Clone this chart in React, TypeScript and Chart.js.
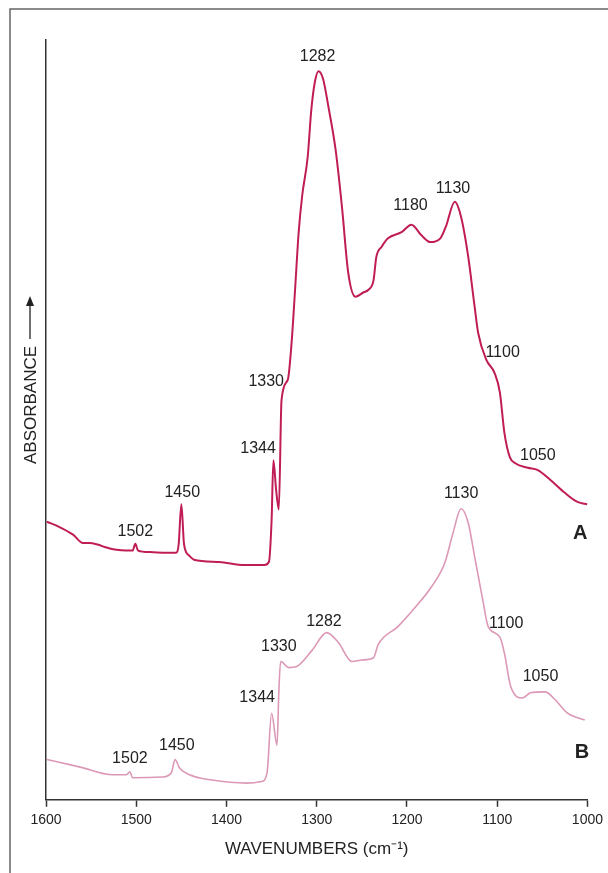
import React, { useEffect, useRef } from "react";
import { Chart, registerables } from "chart.js";

Chart.register(...registerables);

// Spectrum A (upper trace): wavenumber (cm-1) and absorbance (arbitrary units)
const wavenumbersA = [
  1599, 1585, 1570, 1559, 1552, 1543, 1533, 1522, 1511, 1504, 1501, 1498, 1485, 1466, 1456,
  1453, 1450, 1447, 1441, 1436, 1408, 1380, 1358, 1353, 1350, 1348, 1345, 1342, 1339,
  1332, 1328, 1324, 1320, 1316, 1310, 1306, 1302, 1298, 1293, 1287, 1279, 1272, 1265, 1257, 1248, 1243,
  1237, 1234, 1228, 1221, 1206, 1195, 1184, 1174, 1163, 1157, 1147, 1140, 1132, 1125, 1121,
  1112, 1103, 1097, 1092, 1086, 1080, 1066, 1055, 1041, 1025, 1011, 1000,
];
const absorbanceA = [
  36.6, 35.9, 34.9, 33.8, 33.8, 33.6, 33.2, 32.9, 32.8, 32.8, 33.7, 32.8, 32.6, 32.5, 32.5,
  33.6, 38.9, 33.6, 32.1, 31.6, 31.3, 30.9, 30.9, 31.3, 36.8, 44.7, 40.8, 38.2, 52.6,
  55.3, 59.9, 67.1, 74.7, 79.6, 84.6, 90.8, 94.5, 95.9, 94.9, 91.2, 85.5, 78.0, 69.3, 66.2, 66.8, 67.1,
  68.4, 71.4, 72.8, 73.9, 74.7, 75.7, 74.3, 73.4, 73.9, 75.4, 78.7, 76.7, 71.4, 64.9, 61.4,
  57.9, 56.2, 53.6, 48.3, 45.1, 44.3, 43.7, 43.4, 42.1, 40.4, 39.2, 38.9,
];

// Spectrum B (lower trace)
const wavenumbersB = [
  1599, 1562, 1526, 1511, 1507, 1504, 1471, 1461, 1457, 1452, 1441, 1416, 1378, 1361, 1355,
  1350, 1344, 1342, 1340, 1331, 1323, 1305, 1289, 1276, 1261, 1250, 1237, 1232, 1210, 1191,
  1173, 1158, 1149, 1140, 1132, 1125, 1116, 1110, 1097, 1092, 1085, 1072, 1063, 1047, 1036,
  1022, 1003,
];
const absorbanceB = [
  5.3, 4.3, 3.3, 3.3, 3.7, 2.9, 3.0, 3.6, 5.3, 4.2, 3.3, 2.6, 2.2, 2.4, 3.6,
  11.4, 7.2, 14.1, 18.2, 17.4, 17.5, 19.7, 22.0, 20.7, 18.2, 18.4, 18.7, 20.4, 22.8, 25.3,
  28.0, 31.2, 35.1, 38.3, 36.4, 32.0, 26.3, 22.8, 21.4, 19.3, 14.9, 13.4, 14.1, 14.2, 13.2,
  11.4, 10.5,
];

// Peak annotations: text, wavenumber, absorbance where the label sits
const peakTextsA = ["1282", "1180", "1130", "1100", "1050", "1330", "1344", "1450", "1502"];
const peakWnA = [1299, 1196, 1149, 1094, 1055, 1356, 1365, 1449, 1501];
const peakAbsA = [97.8, 78.2, 80.5, 58.8, 45.3, 55.1, 46.2, 40.4, 35.3];

const peakTextsB = ["1130", "1282", "1100", "1050", "1330", "1344", "1502", "1450"];
const peakWnB = [1140, 1292, 1090, 1052, 1342, 1366, 1507, 1455];
const peakAbsB = [40.3, 23.4, 23.2, 16.2, 20.1, 13.4, 5.4, 7.2];

const traceLabels = ["A", "B"];
const traceLabelWn = [1008, 1006];
const traceLabelAbs = [35.1, 6.2];

const xTicks = [1600, 1500, 1400, 1300, 1200, 1100, 1000];

const COLOR_A = "#c01d57";
const COLOR_B = "#dc98b6";
const INK = "#222222";

const frameAndLabels = {
  id: "frameAndLabels",
  beforeDraw(chart: any) {
    const ctx = chart.ctx;
    ctx.save();
    ctx.fillStyle = "#ffffff";
    ctx.fillRect(0, 0, chart.width, chart.height);
    ctx.strokeStyle = "#666666";
    ctx.lineWidth = 1.5;
    ctx.beginPath();
    ctx.moveTo(10, chart.height);
    ctx.lineTo(10, 9);
    ctx.lineTo(chart.width, 9);
    ctx.stroke();
    ctx.restore();
  },
  afterDraw(chart: any) {
    const ctx = chart.ctx;
    const xs = chart.scales.x;
    const ys = chart.scales.y;
    ctx.save();
    ctx.fillStyle = INK;
    ctx.textAlign = "center";
    ctx.textBaseline = "middle";
    ctx.font = "16px 'Liberation Sans Narrow', 'Liberation Sans', Arial, sans-serif";
    peakTextsA.forEach((t, i) => {
      ctx.fillText(t, xs.getPixelForValue(peakWnA[i]), ys.getPixelForValue(peakAbsA[i]));
    });
    peakTextsB.forEach((t, i) => {
      ctx.fillText(t, xs.getPixelForValue(peakWnB[i]), ys.getPixelForValue(peakAbsB[i]));
    });
    ctx.font = "bold 20px 'Liberation Sans', Arial, sans-serif";
    traceLabels.forEach((t, i) => {
      ctx.fillText(t, xs.getPixelForValue(traceLabelWn[i]), ys.getPixelForValue(traceLabelAbs[i]));
    });

    // Y axis title with upward arrow
    const cx = 30;
    const cy = 380;
    ctx.translate(cx, cy);
    ctx.rotate(-Math.PI / 2);
    ctx.font = "17px 'Liberation Sans', Arial, sans-serif";
    ctx.textAlign = "left";
    const label = "ABSORBANCE";
    const w = ctx.measureText(label).width;
    const total = w + 50;
    const start = -total / 2;
    ctx.fillText(label, start, 1);
    ctx.strokeStyle = INK;
    ctx.lineWidth = 1.3;
    ctx.beginPath();
    ctx.moveTo(start + w + 7, 0);
    ctx.lineTo(start + total - 6, 0);
    ctx.stroke();
    ctx.beginPath();
    ctx.moveTo(start + total, 0);
    ctx.lineTo(start + total - 10, -4);
    ctx.lineTo(start + total - 10, 4);
    ctx.closePath();
    ctx.fill();
    ctx.restore();
  },
};

export default function App() {
  const ref = useRef<HTMLCanvasElement | null>(null);
  useEffect(() => {
    if (!ref.current) return;
    const chart = new Chart(ref.current, {
      type: "line",
      data: {
        datasets: [
          {
            label: "A",
            data: wavenumbersA.map((x, i) => ({ x, y: absorbanceA[i] })),
            borderColor: COLOR_A,
            borderWidth: 2,
            pointRadius: 0,
            cubicInterpolationMode: "monotone",
            fill: false,
          },
          {
            label: "B",
            data: wavenumbersB.map((x, i) => ({ x, y: absorbanceB[i] })),
            borderColor: COLOR_B,
            borderWidth: 1.6,
            pointRadius: 0,
            cubicInterpolationMode: "monotone",
            fill: false,
          },
        ],
      },
      options: {
        responsive: false,
        animation: false,
        layout: { padding: { left: 46, right: 18, top: 40, bottom: 13 } },
        plugins: {
          legend: { display: false },
          tooltip: { enabled: false },
          title: { display: false },
        },
        scales: {
          x: {
            type: "linear",
            reverse: true,
            min: 1000,
            max: 1600,
            afterBuildTicks: (s: any) => {
              s.ticks = xTicks.map((v) => ({ value: v }));
            },
            ticks: {
              color: INK,
              padding: 5,
              maxRotation: 0,
              autoSkip: false,
              font: { family: "'Liberation Sans', Arial, sans-serif", size: 14 },
              callback: (v: any) => String(v),
            },
            grid: {
              display: true,
              drawOnChartArea: false,
              drawTicks: true,
              tickLength: 7,
              tickColor: "#333333",
              tickWidth: 1.5,
            },
            border: { display: true, color: "#333333", width: 1.5 },
            title: {
              display: true,
              text: "WAVENUMBERS (cm\u207B\u00B9)",
              color: INK,
              font: { family: "'Liberation Sans', Arial, sans-serif", size: 17 },
              padding: { top: 6, bottom: 0 },
            },
          },
          y: {
            type: "linear",
            min: 0,
            max: 100,
            ticks: { display: false },
            grid: { display: false, drawTicks: false },
            border: { display: true, color: "#333333", width: 1.5 },
            title: { display: false },
          },
        },
      },
      plugins: [frameAndLabels],
    } as any);
    return () => chart.destroy();
  }, []);
  return (
    <div style={{ position: "absolute", left: 0, top: 0, width: 608, height: 873, background: "#fff" }}>
      <canvas ref={ref} width={608} height={873} style={{ display: "block" }} />
    </div>
  );
}
